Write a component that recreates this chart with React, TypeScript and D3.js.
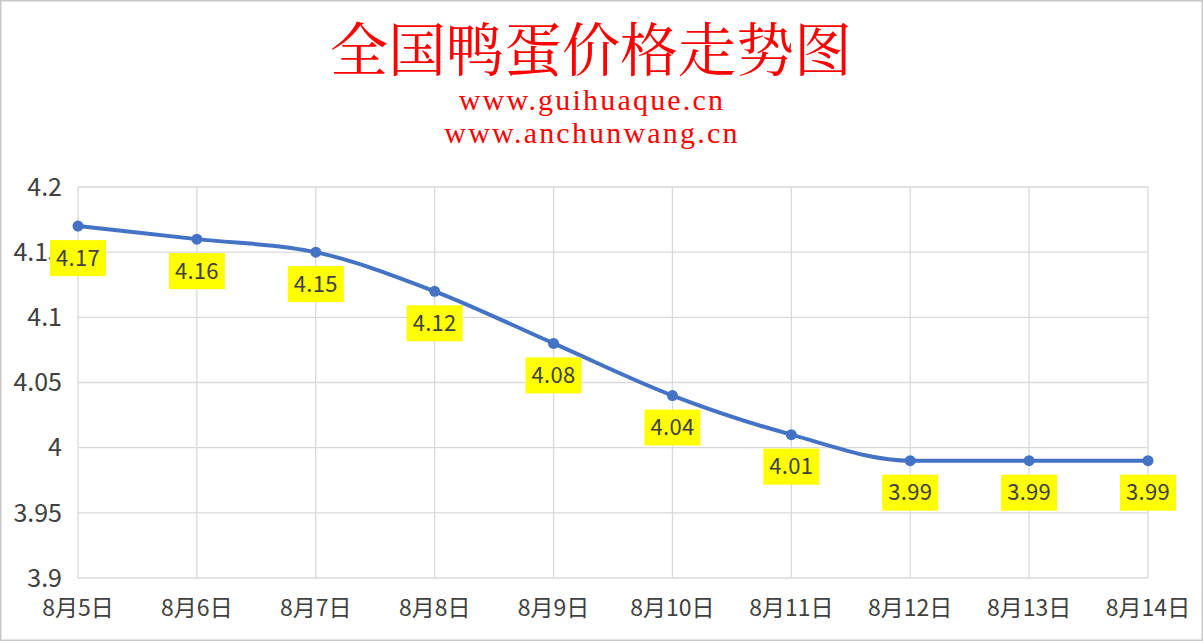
import React from "react";
import * as d3 from "d3";

const categories = ["8月5日", "8月6日", "8月7日", "8月8日", "8月9日", "8月10日", "8月11日", "8月12日", "8月13日", "8月14日"];
const prices = [4.17, 4.16, 4.15, 4.12, 4.08, 4.04, 4.01, 3.99, 3.99, 3.99];
const yTicks = [3.9, 3.95, 4, 4.05, 4.1, 4.15, 4.2];
const yTickLabels = ["3.9", "3.95", "4", "4.05", "4.1", "4.15", "4.2"];
const title = "全国鸭蛋价格走势图";
const subtitles = ["www.guihuaque.cn", "www.anchunwang.cn"];

const W = 1203;
const H = 641;
const left = 78, right = 1148, top = 187, bottom = 578;
const font = "'Microsoft YaHei', 'Noto Sans CJK SC', 'Noto Sans', sans-serif";

export default function App() {
  const x = d3.scalePoint<string>().domain(categories).range([left, right]);
  const y = d3.scaleLinear().domain([3.9, 4.2]).range([bottom, top]);
  const pts: [number, number][] = prices.map((v, i) => [x(categories[i]) as number, y(v)]);
  const line = d3.line().curve(d3.curveMonotoneX)(pts) || "";
  return (
    <svg width={W} height={H} style={{ position: "absolute", left: 0, top: 0, background: "#fff" }}>
      <rect x={0.75} y={0.75} width={W - 1.5} height={H - 1.5} fill="#fff" stroke="#c8c8c8" strokeWidth={1.5} />
      <text x={591} y={71} textAnchor="middle" fill="#ff0000" fontSize={58} fontFamily="'Noto Serif CJK SC', 'SimSun', serif">{title}</text>
      {subtitles.map((s, i) => (
        <text key={s} x={592} y={110 + i * 33} textAnchor="middle" fill="#ff0000" fontSize={30} letterSpacing={2.2} fontFamily="'Liberation Serif', 'Times New Roman', serif">{s}</text>
      ))}
      {yTicks.map((t) => (
        <line key={"h" + t} x1={left} x2={right} y1={y(t)} y2={y(t)} stroke="#d9d9d9" strokeWidth={1.3} />
      ))}
      {categories.map((c) => (
        <line key={"v" + c} x1={x(c)} x2={x(c)} y1={top} y2={bottom} stroke="#d9d9d9" strokeWidth={1.3} />
      ))}
      {yTicks.map((t, i) => (
        <text key={"yt" + t} x={62} y={y(t)} dy="0.35em" textAnchor="end" fill="#404040" fontSize={25} fontFamily={font}>{yTickLabels[i]}</text>
      ))}
      {categories.map((c) => (
        <text key={"xt" + c} x={x(c)} y={608} dy="0.35em" textAnchor="middle" fill="#404040" fontSize={23} fontFamily={font}>{c}</text>
      ))}
      <path d={line} fill="none" stroke="#4472c4" strokeWidth={4} strokeLinejoin="round" />
      {pts.map(([px, py], i) => (
        <circle key={"p" + i} cx={px} cy={py} r={5.5} fill="#4472c4" />
      ))}
      {pts.map(([px, py], i) => (
        <g key={"l" + i}>
          <rect x={px - 28} y={py + 14} width={56} height={36} fill="#ffff00" />
          <text x={px} y={py + 32} dy="0.35em" textAnchor="middle" fill="#404040" fontSize={22} letterSpacing={0.3} fontFamily={font}>{prices[i].toFixed(2)}</text>
        </g>
      ))}
    </svg>
  );
}
